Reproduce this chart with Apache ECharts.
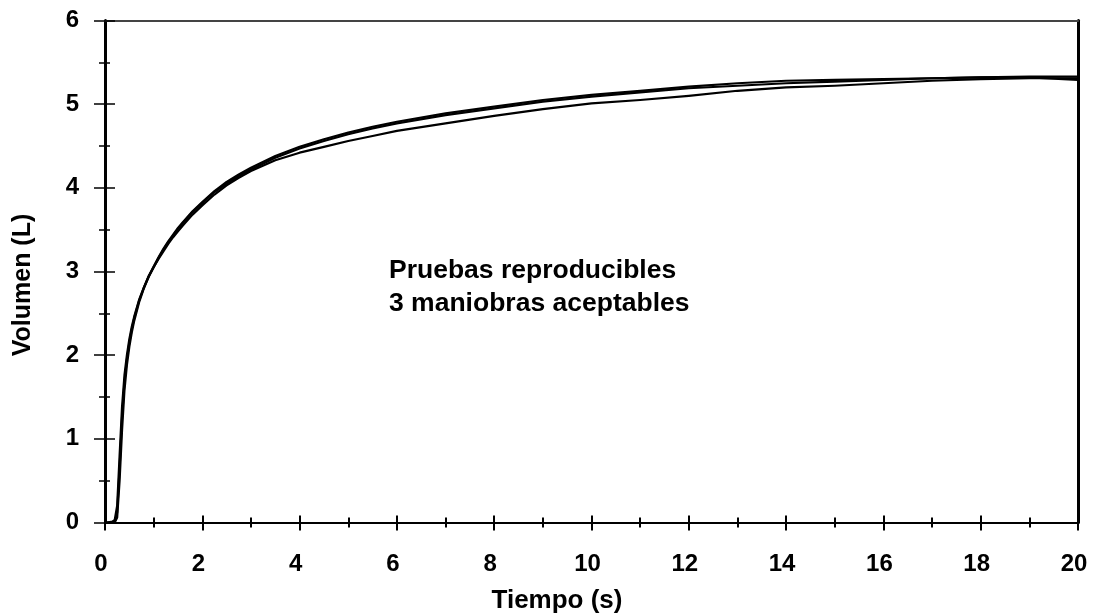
<!DOCTYPE html>
<html>
<head>
<meta charset="utf-8">
<script src="https://cdn.jsdelivr.net/npm/echarts@6/dist/echarts.min.js"></script>
<style>html,body{margin:0;padding:0;background:#fff;}#c{width:1095px;height:613px;}</style>
</head>
<body>
<div id="c"></div>
<script>
// Tiempo (s)
var time = [0.05, 0.15, 0.2, 0.25, 0.3, 0.35, 0.4, 0.45, 0.5, 0.55, 0.6, 0.7, 0.8, 0.9, 1.0, 1.1, 1.2, 1.3, 1.4, 1.5, 1.6, 1.8, 2.0, 2.25, 2.5, 2.75, 3.0, 3.5, 4.0, 4.5, 5.0, 5.5, 6.0, 7, 8, 9, 10, 11, 12, 13, 14, 15, 16, 17, 18, 19, 20];
// Volumen (L) — maniobra 1
var vol1 = [0, 0, 0.01, 0.12, 0.65, 1.25, 1.68, 1.95, 2.15, 2.31, 2.44, 2.65, 2.81, 2.95, 3.06, 3.17, 3.27, 3.36, 3.44, 3.52, 3.59, 3.72, 3.83, 3.96, 4.07, 4.16, 4.24, 4.38, 4.49, 4.58, 4.66, 4.73, 4.79, 4.89, 4.97, 5.05, 5.11, 5.16, 5.21, 5.25, 5.28, 5.29, 5.30, 5.31, 5.32, 5.33, 5.33];
// maniobra 2
var vol2 = [0, 0, 0, 0.06, 0.5, 1.1, 1.58, 1.88, 2.1, 2.27, 2.41, 2.63, 2.8, 2.94, 3.05, 3.16, 3.26, 3.35, 3.43, 3.51, 3.58, 3.71, 3.82, 3.95, 4.05, 4.14, 4.22, 4.36, 4.47, 4.56, 4.64, 4.71, 4.77, 4.87, 4.95, 5.03, 5.09, 5.14, 5.19, 5.22, 5.25, 5.27, 5.29, 5.31, 5.32, 5.32, 5.29];
// maniobra 3
var vol3 = [0, 0.01, 0.03, 0.2, 0.8, 1.38, 1.76, 2.0, 2.19, 2.34, 2.46, 2.66, 2.81, 2.94, 3.05, 3.15, 3.24, 3.33, 3.41, 3.48, 3.55, 3.68, 3.79, 3.92, 4.03, 4.12, 4.2, 4.33, 4.42, 4.49, 4.56, 4.62, 4.68, 4.77, 4.86, 4.94, 5.01, 5.05, 5.1, 5.16, 5.2, 5.22, 5.25, 5.28, 5.3, 5.31, 5.31];
var xTicks = {min: 0, max: 20, interval: 2};
var yTicks = {min: 0, max: 6, interval: 1};
var annotation = 'Pruebas reproducibles\n3 maniobras aceptables';

function pairs(t, v) { return t.map(function (x, i) { return [x, v[i]]; }); }

var FONT = '"Liberation Sans", Arial, sans-serif';
var chart = echarts.init(document.getElementById('c'), null, {renderer: 'canvas'});
function txt(size) { return {fontSize: size, fontWeight: 'bold', color: '#000', fontFamily: FONT}; }

function lineSeries(v) {
  return {
    type: 'line', data: pairs(time, v), xAxisIndex: 0, yAxisIndex: 0,
    showSymbol: false, smooth: false,
    lineStyle: {color: '#000', width: 2.2, join: 'round', cap: 'round'}, silent: true, animation: false
  };
}

chart.setOption({
  animation: false,
  backgroundColor: '#fff',
  grid: {left: 105, right: 17, top: 20.5, bottom: 90.5, containLabel: false, outerBoundsMode: 'none'},
  xAxis: [
    {
      type: 'value', min: xTicks.min, max: xTicks.max, interval: xTicks.interval, position: 'bottom',
      axisLine: {show: true, onZero: false, lineStyle: {color: '#000', width: 2}},
      axisTick: {show: true, inside: false, length: 8, lineStyle: {color: '#000', width: 2}},
      minorTick: {show: true, splitNumber: 2, length: 5, lineStyle: {color: '#000', width: 2}},
      axisLabel: Object.assign({margin: 30, padding: [0, 8, 0, 0]}, txt(24)),
      splitLine: {show: false}, minorSplitLine: {show: false},
      name: 'Tiempo (s)', nameLocation: 'middle', nameGap: 65,
      nameTextStyle: Object.assign({padding: [0, 69, 0, 0]}, txt(26))
    },
    {
      type: 'value', min: xTicks.min, max: xTicks.max, interval: xTicks.interval, position: 'bottom',
      axisLine: {show: false, onZero: false},
      axisTick: {show: true, inside: true, length: 7, lineStyle: {color: '#000', width: 2}},
      minorTick: {show: true, splitNumber: 2, length: 5, lineStyle: {color: '#000', width: 2}},
      axisLabel: {show: false}, splitLine: {show: false}
    },
    {
      type: 'value', min: xTicks.min, max: xTicks.max, position: 'top',
      axisLine: {show: true, onZero: false, lineStyle: {color: '#444', width: 2}},
      axisTick: {show: false}, axisLabel: {show: false}, splitLine: {show: false}
    }
  ],
  yAxis: [
    {
      type: 'value', min: yTicks.min, max: yTicks.max, interval: yTicks.interval, position: 'left',
      axisLine: {show: true, onZero: false, lineStyle: {color: '#000', width: 3}},
      axisTick: {show: true, inside: false, length: 11, lineStyle: {color: '#000', width: 1.5}},
      minorTick: {show: true, splitNumber: 2, length: 6, lineStyle: {color: '#000', width: 1.5}},
      axisLabel: Object.assign({margin: 26}, txt(24)),
      splitLine: {show: false}, minorSplitLine: {show: false},
      name: 'Volumen (L)', nameLocation: 'middle', nameGap: 69,
      nameTextStyle: Object.assign({padding: [0, 27, 0, 0]}, txt(25))
    },
    {
      type: 'value', min: yTicks.min, max: yTicks.max, interval: yTicks.interval, position: 'left',
      axisLine: {show: false, onZero: false},
      axisTick: {show: true, inside: true, length: 10, lineStyle: {color: '#000', width: 1.5}},
      minorTick: {show: true, splitNumber: 2, length: 5, lineStyle: {color: '#000', width: 1.5}},
      axisLabel: {show: false}, splitLine: {show: false}
    },
    {
      type: 'value', min: yTicks.min, max: yTicks.max, position: 'right',
      axisLine: {show: true, onZero: false, lineStyle: {color: '#000', width: 3}},
      axisTick: {show: false}, axisLabel: {show: false}, splitLine: {show: false}
    }
  ],
  series: [lineSeries(vol1), lineSeries(vol2), lineSeries(vol3)],
  graphic: [{
    type: 'text', left: 389, top: 254, silent: true,
    style: {text: annotation, fill: '#000', font: 'bold 26.5px ' + FONT, lineHeight: 33}
  }]
});
</script>
</body>
</html>
